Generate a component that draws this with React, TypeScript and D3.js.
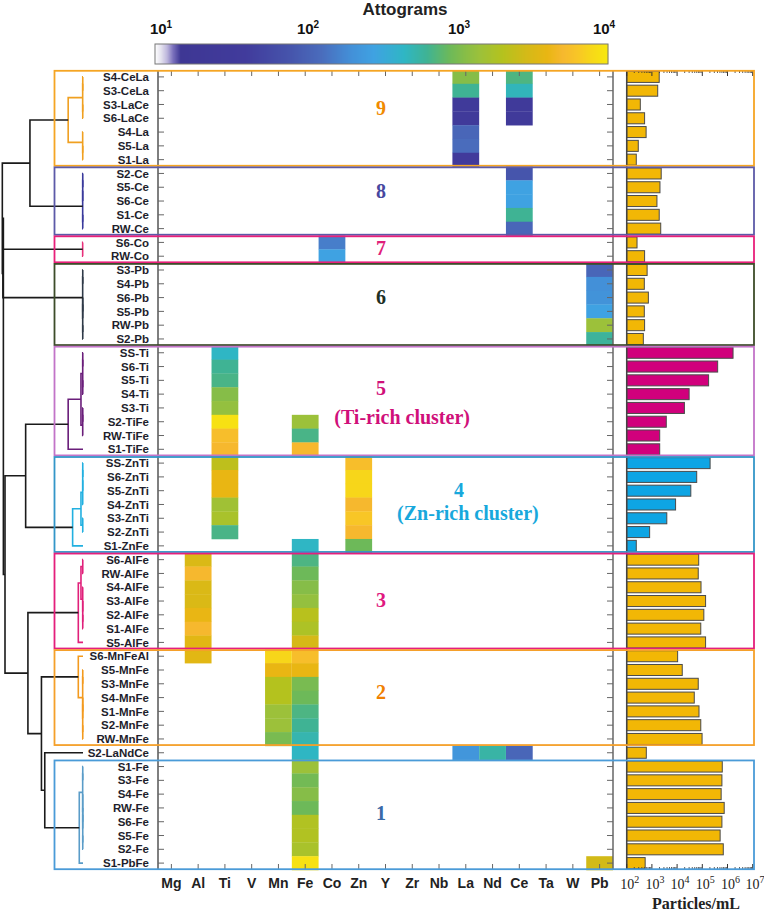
import React from "react";
import * as d3 from "d3";

const elements = ["Mg","Al","Ti","V","Mn","Fe","Co","Zn","Y","Zr","Nb","La","Nd","Ce","Ta","W","Pb"];

const rowLabels = [
  "S4-CeLa","S3-CeLa","S3-LaCe","S6-LaCe","S4-La","S5-La","S1-La",
  "S2-Ce","S5-Ce","S6-Ce","S1-Ce","RW-Ce",
  "S6-Co","RW-Co",
  "S3-Pb","S4-Pb","S6-Pb","S5-Pb","RW-Pb","S2-Pb",
  "SS-Ti","S6-Ti","S5-Ti","S4-Ti","S3-Ti","S2-TiFe","RW-TiFe","S1-TiFe",
  "SS-ZnTi","S6-ZnTi","S5-ZnTi","S4-ZnTi","S3-ZnTi","S2-ZnTi","S1-ZnFe",
  "S6-AlFe","RW-AlFe","S4-AlFe","S3-AlFe","S2-AlFe","S1-AlFe","S5-AlFe",
  "S6-MnFeAl","S5-MnFe","S3-MnFe","S4-MnFe","S1-MnFe","S2-MnFe","RW-MnFe",
  "S2-LaNdCe",
  "S1-Fe","S3-Fe","S4-Fe","RW-Fe","S6-Fe","S5-Fe","S2-Fe","S1-PbFe"
];

// particles / mL per row
const particles = [
  1950,1700,347,513,589,288,240,
  2340,2090,1585,1950,2240,
  257,513,
  646,500,724,500,513,457,
  1.66e6,4.07e5,1.78e5,3.0e4,1.95e4,3720,2040,2040,
  2.04e5,6.0e4,3.5e4,8700,3900,813,240,
  7.2e4,6.9e4,8.9e4,1.35e5,1.15e5,8.7e4,1.35e5,
  1.05e4,1.6e4,6.9e4,4.8e4,7.4e4,8.7e4,9.8e4,
  600,
  6.2e5,6.0e5,5.6e5,7.4e5,6.0e5,5.1e5,6.8e5,540
];

// [row, element, attograms]
const cells: [string, string, number][] = [
  ["S4-CeLa","La",1122],["S3-CeLa","La",631],["S3-LaCe","La",32],["S6-LaCe","La",32],["S4-La","La",112],["S5-La","La",126],["S1-La","La",35],["S2-LaNdCe","La",224],
  ["S4-CeLa","Ce",708],["S3-CeLa","Ce",480],["S3-LaCe","Ce",32],["S6-LaCe","Ce",32],["S2-Ce","Ce",80],["S5-Ce","Ce",282],["S6-Ce","Ce",282],["S1-Ce","Ce",631],["RW-Ce","Ce",112],["S2-LaNdCe","Ce",112],
  ["S2-LaNdCe","Nd",560],
  ["S6-Co","Co",158],["RW-Co","Co",282],
  ["S3-Pb","Pb",112],["S4-Pb","Pb",200],["S6-Pb","Pb",210],["S5-Pb","Pb",282],["RW-Pb","Pb",1413],["S2-Pb","Pb",600],["S1-PbFe","Pb",2818],
  ["SS-Ti","Ti",447],["S6-Ti","Ti",631],["S5-Ti","Ti",680],["S4-Ti","Ti",1122],["S3-Ti","Ti",1300],["S2-TiFe","Ti",8913],["RW-TiFe","Ti",5500],["S1-TiFe","Ti",5012],
  ["SS-ZnTi","Ti",2240],["S6-ZnTi","Ti",3981],["S5-ZnTi","Ti",3981],["S4-ZnTi","Ti",1500],["S3-ZnTi","Ti",1700],["S2-ZnTi","Ti",680],
  ["S2-TiFe","Fe",1413],["RW-TiFe","Fe",680],["S1-TiFe","Fe",5012],["S1-ZnFe","Fe",447],
  ["S6-AlFe","Fe",700],["RW-AlFe","Fe",900],["S4-AlFe","Fe",1122],["S3-AlFe","Fe",1300],["S2-AlFe","Fe",2100],["S1-AlFe","Fe",1800],["S5-AlFe","Fe",3000],
  ["S6-MnFeAl","Fe",5500],["S5-MnFe","Fe",3981],["S3-MnFe","Fe",1000],["S4-MnFe","Fe",900],["S1-MnFe","Fe",700],["S2-MnFe","Fe",631],["RW-MnFe","Fe",520],
  ["S2-LaNdCe","Fe",450],
  ["S1-Fe","Fe",1413],["S3-Fe","Fe",950],["S4-Fe","Fe",1122],["RW-Fe","Fe",900],["S6-Fe","Fe",1900],["S5-Fe","Fe",1900],["S2-Fe","Fe",1700],["S1-PbFe","Fe",8913],
  ["SS-ZnTi","Zn",5500],["S6-ZnTi","Zn",7586],["S5-ZnTi","Zn",7586],["S4-ZnTi","Zn",5012],["S3-ZnTi","Zn",6310],["S2-ZnTi","Zn",5012],["S1-ZnFe","Zn",900],
  ["S6-AlFe","Al",3200],["RW-AlFe","Al",5012],["S4-AlFe","Al",3200],["S3-AlFe","Al",3200],["S2-AlFe","Al",4000],["S1-AlFe","Al",5012],["S5-AlFe","Al",3600],["S6-MnFeAl","Al",3600],
  ["S6-MnFeAl","Mn",7586],["S5-MnFe","Mn",3981],["S3-MnFe","Mn",2000],["S4-MnFe","Mn",2000],["S1-MnFe","Mn",1413],["S2-MnFe","Mn",1413],["RW-MnFe","Mn",1000]
];

const clusterNames = ["9","8","7","6","5","4","3","2","1"];
const clusterFirst = [0,7,12,14,20,28,35,42,50];
const clusterLast = [6,11,13,19,27,34,41,48,57];
const clusterSubtitles = ["","","","","(Ti-rich cluster)","(Zn-rich cluster)","","",""];
const clusterLineColors = ["#f0a020","#3a3a9c","#e8307a","#2f3a48","#6a1e7a","#22b0e0","#e0207a","#f39a1e","#5a9cc8"];
const clusterBoxColors = ["#f5a524","#5c5aa8","#e8207a","#3d4d2a","#c274c8","#3396c8","#e41f7c","#f5a02a","#4a9bd8"];
const clusterTextColors = ["#f08a00","#4848a0","#e0207a","#1e3024","#d0107a","#18a8dc","#e01880","#f08000","#3a6aa8"];
const clusterBarColors = ["#f2b705","#f2b705","#f2b705","#f2b705","#d1007c","#0ea5e4","#f2b705","#f2b705","#f2b705"];
// label anchor (row units, column units) for cluster numbers
const clusterLabelRow = [2.76,8.75,12.9,16.46,23.06,30.46,38.43,45.1,53.9];
const clusterLabelCol = [8.33,8.33,8.33,8.33,8.33,11.25,8.33,8.33,8.33];
const clusterSubRow = [0,0,0,0,25.16,32.12,0,0,0];
const clusterSubCol = [0,0,0,0,9.12,11.58,0,0,0];

// linkage: [childA, childB, height]; leaves are 0..57, merges numbered from 58
const linkage: [number, number, number][] = [
  [0,1,0.3],[2,3,0.3],[58,59,0.4],[5,6,0.3],[4,61,0.4],[60,62,18.3],
  [7,8,0.3],[64,9,0.35],[10,11,0.3],[65,66,0.4],[63,67,65.5],
  [12,13,0.4],
  [14,15,0.3],[16,17,0.3],[18,19,0.3],[71,72,0.35],[70,73,0.4],
  [69,74,98.9],[68,75,99.6],
  [20,21,0.3],[22,23,0.3],[77,78,0.35],[24,25,0.3],[80,26,0.35],[79,81,2.5],[82,27,18.3],
  [28,29,0.3],[84,30,0.32],[85,31,0.35],[32,33,0.3],[86,87,2.5],[88,34,12.8],
  [83,89,70.8],
  [35,36,0.3],[39,40,0.3],[38,92,0.32],[37,93,0.35],[91,94,2.5],[95,41,5.8],
  [43,44,0.3],[45,46,0.3],[47,48,0.3],[98,99,0.35],[97,100,0.4],[42,101,5.8],
  [50,51,0.3],[53,54,0.3],[55,56,0.3],[104,105,0.32],[52,106,0.35],[103,107,0.4],[108,57,4.6],
  [49,109,47.2],[102,110,51.3],[96,111,68],[90,112,96.3],[76,113,98.3]
];

const colorbarTicks = [10, 100, 1000, 10000];
const particleTicks = [1e2, 1e3, 1e4, 1e5, 1e6, 1e7];

// colour map (log10 attograms -> colour)
const cmapStops = [1.0,1.04,1.08,1.12,1.17,1.6,1.9,2.1,2.3,2.45,2.65,2.8,2.95,3.05,3.15,3.3,3.45,3.6,3.7,3.8,3.88,4.0];
const cmapColors = ["#ffffff","#e4e2ee","#bdb6dc","#7a70bc","#3e3794","#413b9c","#4655ac","#4a6cbc","#4390d8","#3fa2e2","#2fb6c4","#3fb394","#6cb95a","#86bd48","#9cc13a","#b4c21e","#d2ba18","#e9b613","#f6b82e","#f8c626","#f7d61a","#f7e80e"];

const SANS = "'Liberation Sans', Arial, sans-serif";
const SERIF = "'Liberation Serif', 'Times New Roman', serif";

export default function App() {
  const W = 764, H = 913;
  const top = 70, bottom = 870;
  const y = d3.scaleBand<number>().domain(d3.range(rowLabels.length)).range([top, bottom]);
  const bw = y.bandwidth();
  const x = d3.scaleBand<string>().domain(elements).range([158, 613]);
  const cw = x.bandwidth();
  const xb = d3.scaleLog().domain([1e2, 1e7]).range([626.7, 752.7]);
  const xd = d3.scaleLinear().domain([0, 100]).range([83, 2]);
  const cb = d3.scaleLog().domain([10, 1e4]).range([155, 608]);
  const lin = d3.scaleLinear<string>().domain(cmapStops).range(cmapColors).interpolate(d3.interpolateRgb).clamp(true);
  const color = (v: number) => lin(Math.log10(v));
  const rowIdx = new Map(rowLabels.map((r, i) => [r, i]));
  const barBand = d3.scaleBand<number>().domain(d3.range(rowLabels.length)).range([top, bottom]).paddingInner(0.2).paddingOuter(0.1);

  const rowCluster = rowLabels.map((_, i) => {
    for (let c = 0; c < clusterFirst.length; c++) if (i >= clusterFirst[c] && i <= clusterLast[c]) return c;
    return -1;
  });

  // dendrogram
  const nodeY: number[] = rowLabels.map((_, i) => (y(i) as number) + bw / 2);
  const nodeH: number[] = rowLabels.map(() => 0);
  const nodeC: number[] = rowCluster.slice();
  const links = linkage.map(([a, b, h]) => {
    nodeY.push((nodeY[a] + nodeY[b]) / 2);
    nodeH.push(h);
    const c = nodeC[a] !== -1 && nodeC[a] === nodeC[b] ? nodeC[a] : -1;
    nodeC.push(c);
    const path = d3.path();
    path.moveTo(xd(nodeH[a]), nodeY[a]);
    path.lineTo(xd(h), nodeY[a]);
    path.lineTo(xd(h), nodeY[b]);
    path.lineTo(xd(nodeH[b]), nodeY[b]);
    return { d: path.toString(), color: c === -1 ? "#1a1a1a" : clusterLineColors[c] };
  });

  const minorTicks: number[] = [];
  for (let k = 2; k < 7; k++) for (let m = 2; m <= 9; m++) minorTicks.push(m * Math.pow(10, k));

  const cbSteps = d3.range(155, 608, 1);

  return (
    <svg width={W} height={H} style={{ position: "absolute", left: 0, top: 0, background: "#fff" }}>
      {/* colour bar */}
      <text x={405} y={15} textAnchor="middle" fontFamily={SANS} fontWeight="bold" fontSize={17} fill="#222">Attograms</text>
      {cbSteps.map((px) => (
        <rect key={px} x={px} y={44} width={1.2} height={20} fill={color(cb.invert(px + 0.5))} />
      ))}
      <rect x={155} y={44} width={453} height={20} fill="none" stroke="#777" strokeWidth={1} />
      {colorbarTicks.map((t, i) => (
        <text key={t} x={Math.min(604, Math.max(161, cb(t) + 2))} y={34} textAnchor="middle" fontFamily={SANS} fontWeight="bold" fontSize={15} fill="#111">
          10<tspan dy={-6} fontSize={10}>{Math.round(Math.log10(t))}</tspan>
        </text>
      ))}

      {/* heatmap cells */}
      {cells.map(([r, e, v], i) => (
        <rect key={i} x={x(e)} y={y(rowIdx.get(r) as number)} width={cw} height={bw + 0.3} fill={color(v)} />
      ))}

      {/* heatmap axes */}
      <line x1={158} x2={158} y1={top} y2={bottom} stroke="#555" strokeWidth={1.5} />
      <line x1={613} x2={613} y1={top} y2={bottom} stroke="#666" strokeWidth={1.5} />
      {rowLabels.map((r, i) => {
        const cy = (y(i) as number) + bw / 2;
        return (
          <g key={r}>
            <line x1={158} x2={164} y1={cy} y2={cy} stroke="#666" strokeWidth={1} />
            <line x1={607} x2={613} y1={cy} y2={cy} stroke="#666" strokeWidth={1} />
            <text x={149} y={cy} dy="0.36em" textAnchor="end" fontFamily={SANS} fontWeight="bold" fontSize={11.5} fill="#1e1e2c">{r}</text>
          </g>
        );
      })}
      {elements.map((e) => {
        const cx = (x(e) as number) + cw / 2;
        return (
          <g key={e}>
            <line x1={cx} x2={cx} y1={top} y2={top + 6} stroke="#666" strokeWidth={1} />
            <line x1={cx} x2={cx} y1={bottom - 6} y2={bottom} stroke="#666" strokeWidth={1} />
            <text x={cx} y={888} textAnchor="middle" fontFamily={SANS} fontWeight="bold" fontSize={14} fill="#222">{e}</text>
          </g>
        );
      })}

      {/* bars */}
      {particles.map((p, i) => (
        <rect key={i} x={xb(1e2)} y={barBand(i)} width={xb(p) - xb(1e2)} height={barBand.bandwidth()}
          fill={rowCluster[i] === -1 ? "#f2b705" : clusterBarColors[rowCluster[i]]} stroke="#4a4a4a" strokeWidth={1} />
      ))}
      <line x1={xb(1e2)} x2={xb(1e2)} y1={top} y2={bottom} stroke="#444" strokeWidth={1.5} />
      {particleTicks.map((t) => (
        <g key={t}>
          <line x1={xb(t)} x2={xb(t)} y1={top} y2={top + 6} stroke="#333" strokeWidth={1} />
          <line x1={xb(t)} x2={xb(t)} y1={bottom - 6} y2={bottom} stroke="#333" strokeWidth={1} />
          <text x={Math.min(755, xb(t) + 3)} y={889} textAnchor="middle" fontFamily={SERIF} fontSize={14} fill="#222">
            10<tspan dy={-6} fontSize={10}>{Math.round(Math.log10(t))}</tspan>
          </text>
        </g>
      ))}
      {minorTicks.map((t) => (
        <g key={t}>
          <line x1={xb(t)} x2={xb(t)} y1={top} y2={top + 3} stroke="#333" strokeWidth={0.8} />
          <line x1={xb(t)} x2={xb(t)} y1={bottom - 3} y2={bottom} stroke="#333" strokeWidth={0.8} />
        </g>
      ))}
      <text x={696} y={909} textAnchor="middle" fontFamily={SERIF} fontWeight="bold" fontSize={16} fill="#222">Particles/mL</text>

      {/* dendrogram */}
      {links.map((l, i) => (
        <path key={i} d={l.d} fill="none" stroke={l.color} strokeWidth={1.6} />
      ))}

      {/* cluster boxes */}
      {clusterNames.map((c, i) => {
        const y0 = (y(clusterFirst[i]) as number) + 0.8;
        const y1 = (y(clusterLast[i]) as number) + bw - 0.8;
        return (
          <rect key={c} x={54.5} y={y0} width={754 - 54.5} height={y1 - y0} fill="none" stroke={clusterBoxColors[i]} strokeWidth={1.8} />
        );
      })}

      {/* cluster labels */}
      {clusterNames.map((c, i) => (
        <g key={c} fontFamily={SERIF} fontWeight="bold" fontSize={20} fill={clusterTextColors[i]}>
          <text x={158 + clusterLabelCol[i] * cw} y={top + clusterLabelRow[i] * bw} dy="0.35em" textAnchor="middle">{c}</text>
          {clusterSubtitles[i] && (
            <text x={158 + clusterSubCol[i] * cw} y={top + clusterSubRow[i] * bw} dy="0.35em" textAnchor="middle">{clusterSubtitles[i]}</text>
          )}
        </g>
      ))}
    </svg>
  );
}
